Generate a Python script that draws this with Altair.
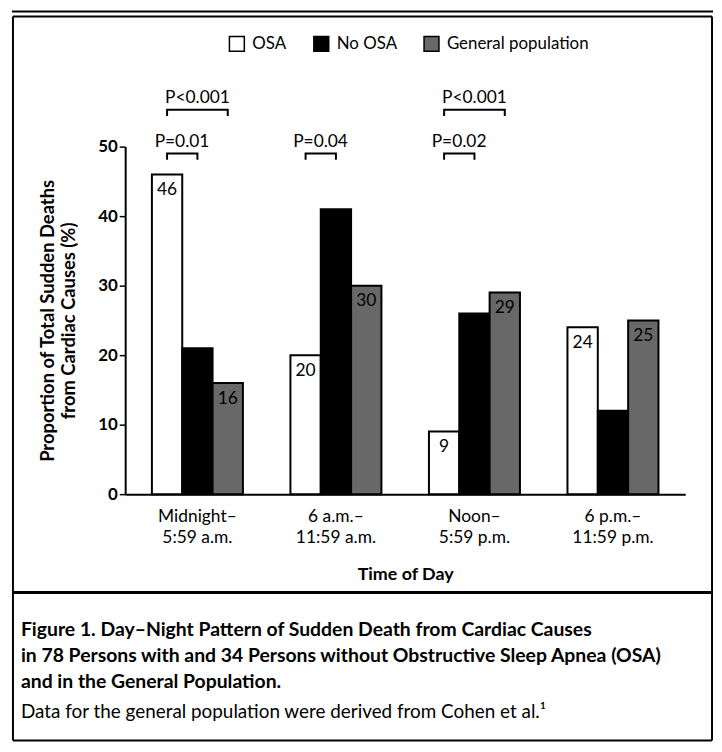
import altair as alt
import pandas as pd

FONT = "Lato"

# ---- data ----
categories = ["Midnight–|5:59 a.m.", "6 a.m.–|11:59 a.m.", "Noon–|5:59 p.m.", "6 p.m.–|11:59 p.m."]
series = ["OSA", "No OSA", "General population"]
osa = [46, 20, 9, 24]
no_osa = [21, 41, 26, 12]
general = [16, 30, 29, 25]

# significance brackets
br_cat = [categories[0], categories[0], categories[1], categories[2], categories[2]]
br_from = ["OSA", "OSA", "OSA", "OSA", "OSA"]
br_to = ["No OSA", "General population", "No OSA", "No OSA", "General population"]
br_level = [49.0, 55.3, 49.0, 49.0, 55.3]
br_label = ["P=0.01", "P<0.001", "P=0.04", "P=0.02", "P<0.001"]

caption_lines = [
    "Figure 1. Day–Night Pattern of Sudden Death from Cardiac Causes",
    "in 78 Persons with and 34 Persons without Obstructive Sleep Apnea (OSA)",
    "and in the General Population.",
]
caption_note = "Data for the general population were derived from Cohen et al.¹"

# ---- tables ----
rows = []
for vals, s in zip([osa, no_osa, general], series):
    for c, v in zip(categories, vals):
        rows.append({"cat": c, "series": s, "value": v})
bars_df = pd.DataFrame(rows)

DROP = 0.9
brow = []
lrow = []
for i, (c, f, t, lv, lb) in enumerate(zip(br_cat, br_from, br_to, br_level, br_label)):
    brow += [
        {"id": i, "seq": 0, "cat": c, "series": f, "y": lv - DROP},
        {"id": i, "seq": 1, "cat": c, "series": f, "y": lv},
        {"id": i, "seq": 2, "cat": c, "series": t, "y": lv},
        {"id": i, "seq": 3, "cat": c, "series": t, "y": lv - DROP},
    ]
    lrow.append({"cat": c, "label": lb, "y": lv + 1.0,
                 "kind": "wide" if t == "General population" else "narrow"})
br_df = pd.DataFrame(brow)
lab_df = pd.DataFrame(lrow)

xenc = alt.X("cat:N", sort=categories,
             scale=alt.Scale(domain=categories, paddingInner=0.343, paddingOuter=0.193),
             axis=alt.Axis(title="Time of Day", labelExpr="split(datum.label, '|')",
                           labelAngle=0, labelFontSize=17.5, labelLineHeight=21,
                           labelPadding=14, labelBaseline="top", ticks=False, tickSize=0,
                           domainColor="black", domainWidth=2, labelColor="black",
                           titleColor="black", titleFontSize=18, titleFontWeight="bold",
                           titlePadding=19, labelFont=FONT, titleFont=FONT))
xoff = alt.XOffset("series:N", sort=series,
                   scale=alt.Scale(domain=series, paddingInner=0, paddingOuter=0))
yscale = alt.Scale(domain=[0, 50], nice=False, zero=True)
yenc = alt.Y("value:Q", scale=yscale,
             axis=alt.Axis(values=[0, 10, 20, 30, 40, 50],
                           title=["Proportion of Total Sudden Deaths", "from Cardiac Causes (%)"],
                           grid=False, tickSize=6, tickWidth=1.5, tickColor="black",
                           domainColor="black", domainWidth=2, labelFontSize=17,
                           labelFontWeight="bold", labelPadding=2, labelColor="black",
                           titleColor="black", titleFontSize=18.5, titleFontWeight="bold",
                           titleLineHeight=21, titlePadding=19, labelFont=FONT, titleFont=FONT))

bars = alt.Chart(bars_df).mark_bar(stroke="black", strokeWidth=2).encode(
    x=xenc, xOffset=xoff, y=yenc,
    color=alt.Color("series:N", sort=series,
                    scale=alt.Scale(domain=series, range=["white", "black", "#686868"]),
                    legend=alt.Legend(title=None, orient="none", legendX=104, legendY=-112,
                                      direction="horizontal", columns=3, columnPadding=24,
                                      labelOffset=7, symbolType="square", symbolSize=225,
                                      symbolStrokeColor="black", symbolStrokeWidth=1.5,
                                      labelFontSize=17, labelFont=FONT, labelColor="black",
                                      padding=0)),
)

values_txt = alt.Chart(bars_df).transform_filter(
    alt.datum.series != "No OSA"
).mark_text(fontSize=17.5, font=FONT, color="black", baseline="middle", dy=16).encode(
    x=alt.X("cat:N", sort=categories), xOffset=alt.XOffset("series:N", sort=series),
    y=alt.Y("value:Q"), text="value:Q",
)

brackets = alt.Chart(br_df).mark_line(color="black", strokeWidth=2).encode(
    x=alt.X("cat:N", sort=categories), xOffset=alt.XOffset("series:N", sort=series),
    y=alt.Y("y:Q"), detail="id:N", order="seq:Q",
)

lab_wide = alt.Chart(lab_df).transform_filter(alt.datum.kind == "wide").mark_text(
    fontSize=17.5, font=FONT, color="black", baseline="alphabetic"
).encode(
    x=alt.X("cat:N", sort=categories), xOffset=alt.XOffset(datum="No OSA"),
    y=alt.Y("y:Q"), text="label:N",
)
lab_narrow = alt.Chart(lab_df).transform_filter(alt.datum.kind == "narrow").mark_text(
    fontSize=17.5, font=FONT, color="black", baseline="alphabetic", dx=-15.5
).encode(
    x=alt.X("cat:N", sort=categories), xOffset=alt.XOffset(datum="No OSA"),
    y=alt.Y("y:Q"), text="label:N",
)

one = pd.DataFrame({"k": [0]})


def rule(x1, x2, y1, y2, w=2):
    return alt.Chart(one).mark_rule(color="black", strokeWidth=w).encode(
        x=alt.value(x1), x2=alt.value(x2), y=alt.value(y1), y2=alt.value(y2))


def note(text, x, y, size, weight="normal"):
    return alt.Chart(one).mark_text(text=text, align="left", baseline="alphabetic",
                                    fontSize=size, fontWeight=weight, font=FONT,
                                    color="black").encode(x=alt.value(x), y=alt.value(y))


frame = [
    rule(-114, 592, -136, -136),
    rule(-113, 591, -131, -131),
    rule(-113, -113, -131, 598),
    rule(591, 591, -131, 598),
    rule(-113, 591, 449, 449, 3),
    rule(-113, 591, 598, 598),
]
caps = [note(t, -105, y, 19.5, "bold") for t, y in zip(caption_lines, [493, 519, 545])]
caps.append(note(caption_note, -105, 575, 19))

chart = alt.layer(bars, values_txt, brackets, lab_wide, lab_narrow, *frame, *caps).properties(
    width=564, height=350,
    autosize=alt.AutoSizeParams(type="none"),
    padding={"left": 118, "top": 137, "right": 29, "bottom": 249},
).configure(font=FONT).configure_view(stroke=None)

chart.save("out.html", embed_options={"renderer": "svg", "actions": False})
